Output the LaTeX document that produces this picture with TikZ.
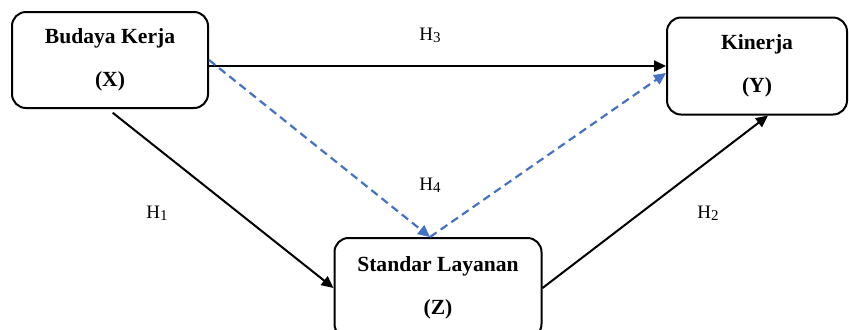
\documentclass[tikz,border=0pt]{standalone}
\usepackage{fontspec}
\setmainfont{Liberation Serif}
\usepackage{xcolor}
\definecolor{ink}{HTML}{000000}
\definecolor{cDash}{HTML}{4472C4}
\usepackage{tikz}
\usetikzlibrary{arrows.meta,calc}

\newcommand{\hyp}[1]{H\raisebox{-0.25ex}{\fontsize{7.5}{8}\selectfont #1}}

\begin{document}
\begin{tikzpicture}[x=0.5pt,y=-0.5pt,
  font=\fontsize{10.8}{21}\selectfont,
  every node/.style={align=center},
  N/.style={draw=ink,rounded corners=7pt,line width=1pt,inner sep=0pt,
    font=\fontsize{10.8}{21.5}\selectfont\bfseries},
  e/.style={-{Triangle[length=6pt,width=5.5pt]},ink,line width=1pt},
  d/.style={-{Triangle[length=6pt,width=5.5pt]},cDash,line width=1.1pt,
    dash pattern=on 4pt off 2.5pt},
  hl/.style={font=\fontsize{9.5}{10}\selectfont,inner sep=1pt}]
\useasboundingbox (0,0) rectangle (849,329);

% --- variables ---
\node[N,minimum width=98pt,minimum height=48pt]   (X) at (110,60)  {Budaya Kerja\\(X)};
\node[N,minimum width=90pt,minimum height=48.5pt] (Y) at (757,66)  {Kinerja\\(Y)};
\node[N,minimum width=103.5pt,minimum height=50pt](Z) at (438,288) {Standar Layanan\\(Z)};

% --- hypothesis labels ---
\node[hl] (h3) at (430,35)  {\hyp{3}};
\node[hl] (h4) at (430,185) {\hyp{4}};
\node[hl] (h1) at (157,213) {\hyp{1}};
\node[hl] (h2) at (708,213) {\hyp{2}};

% edges
\draw[e] (X.east |- Y.west) -- (Y.west);
\draw[e,shorten <=3pt] ($(X.south)+(-2,0)$) -- (Z.west);
\draw[e] (Z.east) -- ($(Y.south)+(11,0)$);
% mediation (dashed)
\draw[d] (X.east) -- ($(Z.north)+(-8,0)$);
\draw[d] ($(Z.north)+(-8,0)$) -- ($(Y.west)+(0,7)$);
\end{tikzpicture}
\end{document}
